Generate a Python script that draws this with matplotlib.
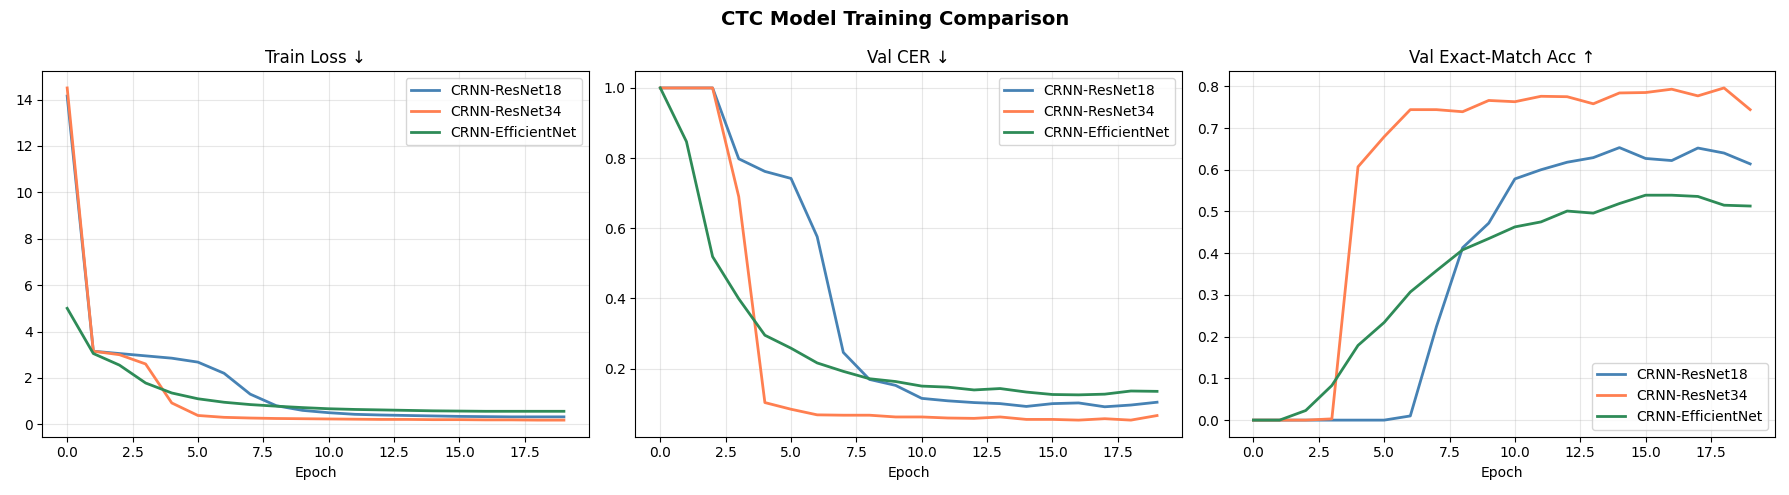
import matplotlib
matplotlib.use("Agg")
import matplotlib.pyplot as plt
import numpy as np

epochs = np.arange(20)
models = ["CRNN-ResNet18", "CRNN-ResNet34", "CRNN-EfficientNet"]
colors = ["steelblue", "coral", "seagreen"]

train_loss = {
    "CRNN-ResNet18": [14.15, 3.15, 3.05, 2.95, 2.85, 2.68, 2.2, 1.3, 0.8, 0.6, 0.5, 0.43, 0.4, 0.38, 0.36, 0.34, 0.33, 0.32, 0.32, 0.32],
    "CRNN-ResNet34": [14.5, 3.15, 3.0, 2.6, 0.92, 0.38, 0.3, 0.27, 0.25, 0.24, 0.23, 0.22, 0.21, 0.21, 0.2, 0.2, 0.19, 0.19, 0.18, 0.18],
    "CRNN-EfficientNet": [5.0, 3.05, 2.55, 1.78, 1.35, 1.1, 0.95, 0.85, 0.78, 0.72, 0.67, 0.64, 0.62, 0.6, 0.58, 0.57, 0.56, 0.56, 0.56, 0.56],
}

val_cer = {
    "CRNN-ResNet18": [1.0, 1.0, 1.0, 0.798, 0.762, 0.742, 0.576, 0.246, 0.169, 0.152, 0.115, 0.108, 0.103, 0.1, 0.092, 0.1, 0.102, 0.091, 0.096, 0.104],
    "CRNN-ResNet34": [1.0, 1.0, 1.0, 0.69, 0.103, 0.084, 0.068, 0.067, 0.067, 0.062, 0.062, 0.059, 0.058, 0.062, 0.055, 0.055, 0.053, 0.057, 0.053, 0.066],
    "CRNN-EfficientNet": [1.0, 0.847, 0.519, 0.399, 0.295, 0.258, 0.216, 0.192, 0.171, 0.163, 0.15, 0.147, 0.139, 0.143, 0.133, 0.126, 0.125, 0.127, 0.136, 0.135],
}

val_acc = {
    "CRNN-ResNet18": [0.0, 0.0, 0.0, 0.0, 0.0, 0.0, 0.01, 0.224, 0.413, 0.472, 0.578, 0.6, 0.618, 0.629, 0.653, 0.627, 0.622, 0.652, 0.64, 0.614],
    "CRNN-ResNet34": [0.0, 0.0, 0.0, 0.003, 0.607, 0.679, 0.744, 0.744, 0.739, 0.766, 0.763, 0.776, 0.775, 0.758, 0.784, 0.785, 0.793, 0.777, 0.796, 0.744],
    "CRNN-EfficientNet": [0.0, 0.0, 0.023, 0.083, 0.179, 0.234, 0.307, 0.358, 0.408, 0.435, 0.463, 0.475, 0.501, 0.496, 0.519, 0.539, 0.539, 0.536, 0.515, 0.513],
}

panels = [
    ("Train Loss \u2193", train_loss, "upper right"),
    ("Val CER \u2193", val_cer, "upper right"),
    ("Val Exact-Match Acc \u2191", val_acc, "lower right"),
]

fig, axes = plt.subplots(1, 3, figsize=(17.9, 4.95), dpi=100)

for ax, (title, data, loc) in zip(axes, panels):
    for name, c in zip(models, colors):
        ax.plot(epochs, data[name], color=c, linewidth=2, label=name)
    ax.set_title(title)
    ax.set_xlabel("Epoch")
    ax.grid(True, alpha=0.3)
    ax.legend(loc=loc)

fig.suptitle("CTC Model Training Comparison", fontsize=14, fontweight="bold")
fig.tight_layout()
fig.savefig("out.png", dpi=100)
